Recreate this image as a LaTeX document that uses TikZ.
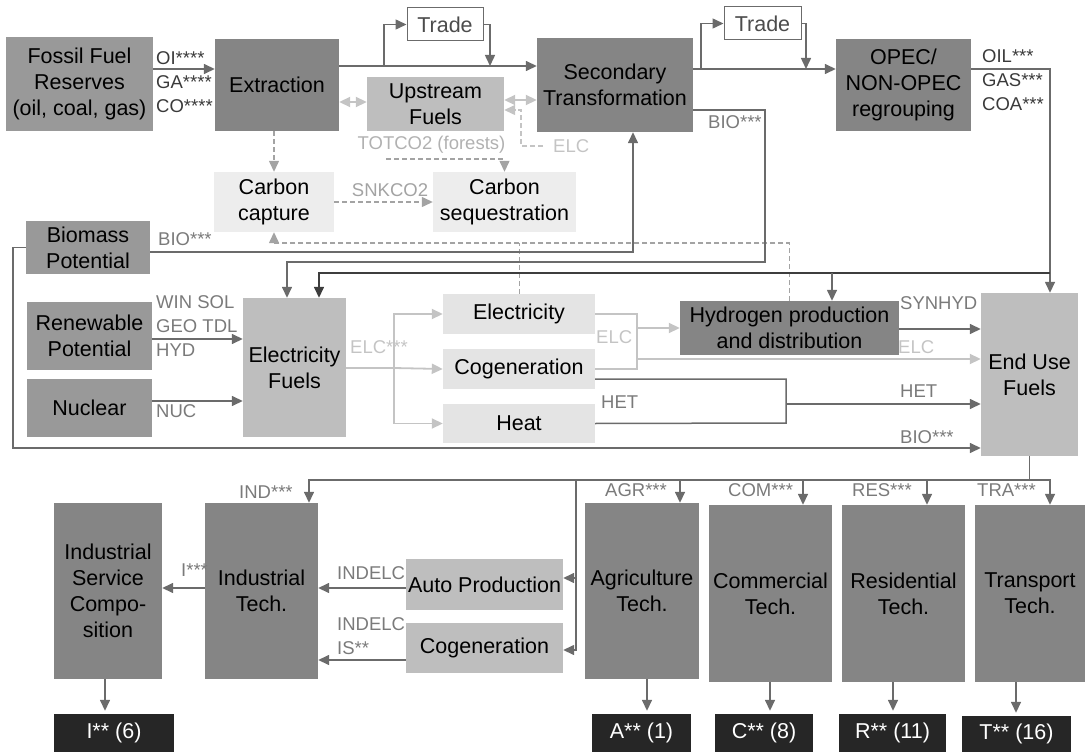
\documentclass[tikz,border=0pt]{standalone}
\usepackage{fontspec}
\setmainfont{Liberation Sans}
\usepackage{xcolor}
\usetikzlibrary{arrows.meta,positioning,calc}

\definecolor{boxdark}{HTML}{858585}
\definecolor{boxsrc}{HTML}{999999}
\definecolor{boxfuel}{HTML}{BEBEBE}
\definecolor{boxpale}{HTML}{E4E4E4}
\definecolor{boxco}{HTML}{EDEDED}
\definecolor{boxout}{HTML}{262626}
\definecolor{linemid}{HTML}{6B6B6B}
\definecolor{linedark}{HTML}{3D3D3D}
\definecolor{linelite}{HTML}{C4C4C4}
\definecolor{linedash}{HTML}{A3A3A3}
\definecolor{lblmid}{HTML}{7A7A7A}
\definecolor{lbldark}{HTML}{3A3A3A}

\begin{document}
\begin{tikzpicture}[x=1pt, y=-1pt,
    >={Triangle[length=11pt,width=10pt]},
    bigtxt/.style={font=\fontsize{21.5}{26}\selectfont},
    procbox/.style={bigtxt, fill=boxdark, align=center, inner sep=0pt},
    srcbox/.style={procbox, fill=boxsrc},
    fuelbox/.style={procbox, fill=boxfuel},
    palebox/.style={procbox, fill=boxpale},
    ccsbox/.style={procbox, fill=boxco},
    outbox/.style={procbox, fill=boxout, text=white},
    tradebox/.style={procbox, fill=white, draw=linemid, line width=1pt, text=black!70},
    flowlbl/.style={font=\fontsize{18.5}{24}\selectfont, text=lblmid, align=left, inner sep=0pt},
    flowedge/.style={->, draw=linemid, line width=1.5pt},
    darkedge/.style={flowedge, draw=linedark},
    litedge/.style={->, draw=linelite, line width=1.8pt},
    dashedge/.style={->, draw=linedash, line width=1.3pt, dash pattern=on 5pt off 3pt}
]
\useasboundingbox (0,0) rectangle (1088,752);

% supply side
\node[srcbox, minimum width=147pt, minimum height=94pt] (fossil) at (79.5,84) {Fossil Fuel\\Reserves\\(oil, coal, gas)};
\node[procbox, minimum width=124pt, minimum height=92pt] (extr) at (277,85) {Extraction};
\node[tradebox, minimum width=76pt, minimum height=33pt] (trade1) at (445,24.5) {Trade};
\node[procbox, minimum width=156pt, minimum height=94pt] (sectr) at (615,85) {Secondary\\Transformation};
\node[tradebox, minimum width=77pt, minimum height=33pt] (trade2) at (762.5,23.5) {Trade};
\node[procbox, minimum width=135pt, minimum height=92pt] (opec) at (903.5,85) {OPEC/\\NON-OPEC\\regrouping};
\node[fuelbox, minimum width=137pt, minimum height=54pt] (upstr) at (435.5,104) {Upstream\\Fuels};
\node[ccsbox, minimum width=120pt, minimum height=60pt] (ccap) at (274,202) {Carbon\\capture};
\node[ccsbox, minimum width=143pt, minimum height=60pt] (cseq) at (504.5,202) {Carbon\\sequestration};

% power and fuels
\node[srcbox, minimum width=124pt, minimum height=53pt] (biom) at (88,247.5) {Biomass\\Potential};
\node[srcbox, minimum width=125pt, minimum height=68pt] (renew) at (89.5,336) {Renewable\\Potential};
\node[srcbox, minimum width=125pt, minimum height=58pt] (nucl) at (89.5,408) {Nuclear};
\node[fuelbox, minimum width=103pt, minimum height=139pt] (elfu) at (294.5,367.5) {Electricity\\Fuels};
\node[palebox, minimum width=152pt, minimum height=40pt] (elec) at (519,314) {Electricity};
\node[palebox, minimum width=152pt, minimum height=40pt] (cogen) at (519,369) {Cogeneration};
\node[palebox, minimum width=152pt, minimum height=39pt] (heat) at (519,423.5) {Heat};
\node[procbox, minimum width=219pt, minimum height=54pt] (hydro) at (789.5,328) {Hydrogen production\\and distribution};
\node[fuelbox, minimum width=97pt, minimum height=163pt] (enduse) at (1029.5,374.5) {End Use\\Fuels};

% demand side
\node[procbox, minimum width=108pt, minimum height=176pt] (indsrv) at (108,591) {Industrial\\Service\\Compo-\\sition};
\node[procbox, minimum width=113pt, minimum height=176pt] (indtech) at (261.5,591) {Industrial\\Tech.};
\node[fuelbox, minimum width=157pt, minimum height=51pt] (autop) at (484.5,584.5) {Auto Production};
\node[fuelbox, minimum width=157pt, minimum height=50pt] (cogen2) at (484.5,648) {Cogeneration};
\node[procbox, minimum width=114pt, minimum height=176pt] (agri) at (642,591) {Agriculture\\Tech.};
\node[procbox, minimum width=123pt, minimum height=177pt] (comm) at (770.5,593.5) {Commercial\\Tech.};
\node[procbox, minimum width=123pt, minimum height=177pt] (resi) at (903.5,593.5) {Residential\\Tech.};
\node[procbox, minimum width=110pt, minimum height=177pt] (trans) at (1030,593.5) {Transport\\Tech.};
\node[outbox, minimum width=120pt, minimum height=38pt] (outI) at (114,733) {I** (6)};
\node[outbox, minimum width=99pt, minimum height=38pt] (outA) at (641.5,733) {A** (1)};
\node[outbox, minimum width=98pt, minimum height=38pt] (outC) at (764,733) {C** (8)};
\node[outbox, minimum width=107pt, minimum height=38pt] (outR) at (892.5,733) {R** (11)};
\node[outbox, minimum width=109pt, minimum height=36pt] (outT) at (1016.5,734) {T** (16)};

% labels
\node[flowlbl, text=lbldark, anchor=west] (lblfos) at (156,82) {OI****\\GA****\\CO****};
\node[flowlbl, text=lbldark, anchor=west] (lblopec) at (982,80) {OIL***\\GAS***\\COA***};
\node[flowlbl, anchor=west] (lblbio1) at (158,239) {BIO***};
\node[flowlbl, anchor=west] (lblbio2) at (708,122) {BIO***};
\node[flowlbl, anchor=west] (lblbio3) at (900,437) {BIO***};
\node[flowlbl, anchor=west] (lblren) at (156,326) {WIN SOL\\GEO TDL\\HYD};
\node[flowlbl, anchor=west] (lblnuc) at (156,411) {NUC};
\node[flowlbl, text=linelite, anchor=west] (lblelf) at (350,347) {ELC***};
\node[flowlbl, text=linelite, anchor=west] (lblelc1) at (596,337) {ELC};
\node[flowlbl, text=linelite, anchor=west] (lblelc2) at (898,347) {ELC};
\node[flowlbl, text=linelite, anchor=west] (lblelcu) at (553,146) {ELC};
\node[flowlbl, text=linedash!85] (lbltot) at (431.5,145) {TOTCO2 (forests)};
\node[flowlbl, text=linedash] (lblsnk) at (390,190) {SNKCO2};
\node[flowlbl, anchor=west] (lblsyn) at (900,303) {SYNHYD};
\node[flowlbl, anchor=west] (lblhet1) at (601,402) {HET};
\node[flowlbl, anchor=west] (lblhet2) at (900,391) {HET};
\node[flowlbl, anchor=west] (lblind) at (239,492) {IND***};
\node[flowlbl, anchor=west] (lblagr) at (605,490) {AGR***};
\node[flowlbl, anchor=west] (lblcom) at (728,490) {COM***};
\node[flowlbl, anchor=west] (lblres) at (852,490) {RES***};
\node[flowlbl, anchor=west] (lbltra) at (977,490) {TRA***};
\node[flowlbl, anchor=west] (lblI) at (181,570) {I***};
\node[flowlbl, anchor=west] (lblau) at (337,573) {INDELC};
\node[flowlbl, anchor=west] (lblcg) at (337,636) {INDELC\\IS**};

% top chain with trade loops
\coordinate (t1in) at (384,66);
\coordinate (t2in) at (701,69);
\draw[flowedge] (fossil.east |- 0,69) -- (extr.west |- 0,69);
\draw[flowedge] (extr.east |- 0,66) -- (sectr.west |- 0,66);
\draw[flowedge] (t1in) |- (trade1.west);
\draw[flowedge] (trade1.east) -| (490,66);
\draw[flowedge] (sectr.east |- 0,69) -- (opec.west |- 0,69);
\draw[flowedge] (t2in) |- (trade2.west);
\draw[flowedge] (trade2.east) -| (806,69);
\draw[flowedge] (opec.east |- 0,69) -| (enduse.north -| 1050,0);

% upstream fuels and carbon
\draw[litedge, <->] (extr.east |- 0,102) -- (upstr.west |- 0,102);
\draw[litedge, <->] (upstr.east |- 0,100) -- (sectr.west |- 0,100);
\draw[dashedge, draw=linelite, shorten <=10pt] (lblelcu.west) -- (521,146) |- (upstr.east |- 0,110);
\draw[dashedge] (386,159) -| (cseq.north);
\draw[dashedge] (ccap.east) -- (cseq.west);
\draw[dashedge] (ccap.north |- extr.south) -- (ccap.north);
\draw[dashedge] (hydro.north) -- (hydro.north |- 0,243) -| (ccap.south);
\draw[dashedge, -, line width=0.8pt] (elec.north) -- (elec.north |- 0,243);

% biomass and bio routes
\draw[flowedge] (biom.east |- 0,252) -| (sectr.south -| 633,0);
\draw[flowedge] (biom.west) -| (13,448) -- (enduse.west |- 0,448);
\draw[flowedge] (sectr.east |- 0,110) -| (765,262) -| (elfu.north -| 287,0);
\coordinate (obus) at (1050,273);
\draw[darkedge] (obus) -| (elfu.north -| 319,0);
\draw[flowedge] (832,273) -- (hydro.north -| 832,0);

% electricity
\draw[flowedge] (renew.east |- 0,339) -- (elfu.west |- 0,339);
\draw[flowedge] (nucl.east |- 0,401) -- (elfu.west |- 0,401);
\coordinate (ebus) at (394,368);
\draw[litedge, -] (elfu.east |- ebus) -- (ebus);
\draw[litedge] (ebus) |- (elec.west);
\draw[litedge] (ebus) -- (cogen.west);
\draw[litedge] (ebus) |- (heat.west);
\draw[litedge, -] (elec.east) -| (637,369) -- (cogen.east);
\draw[litedge] (637,328) -- (hydro.west);
\draw[litedge] (637,359) -- (enduse.west |- 0,359);
\draw[flowedge] (hydro.east |- 0,329) -- (enduse.west |- 0,329);
\draw[flowedge, -] (cogen.east |- 0,379) -| (786,423) -- (heat.east);
\draw[flowedge] (786,404) -- (enduse.west |- 0,404);

% end use distribution
\coordinate (dbus) at (enduse.south |- 0,480);
\draw[flowedge, -] (enduse.south) -- (dbus);
\draw[flowedge] (dbus) -| (trans.north -| 1050,0);
\draw[flowedge] (dbus) -| (indtech.north -| 309,0);
\foreach \n/\x in {agri/680, comm/803, resi/927}
  \draw[flowedge] (\x,480) -- (\n.north -| \x,0);
\draw[flowedge] (576,480) |- (autop.east |- 0,578);
\draw[flowedge] (576,480) |- (cogen2.east |- 0,650);
\draw[flowedge] (autop.west |- 0,588) -- (indtech.east |- 0,588);
\draw[flowedge] (cogen2.west |- 0,660) -- (indtech.east |- 0,660);
\draw[flowedge] (indtech.west |- 0,588) -- (indsrv.east |- 0,588);
\draw[flowedge, shorten >=3pt] (indsrv.south -| 105,0) -- (outI.north -| 105,0);
\foreach \n/\m/\x in {agri/outA/647, comm/outC/770, resi/outR/893, trans/outT/1016}
  \draw[flowedge, shorten >=3pt] (\n.south -| \x,0) -- (\m.north -| \x,0);
\end{tikzpicture}
\end{document}
